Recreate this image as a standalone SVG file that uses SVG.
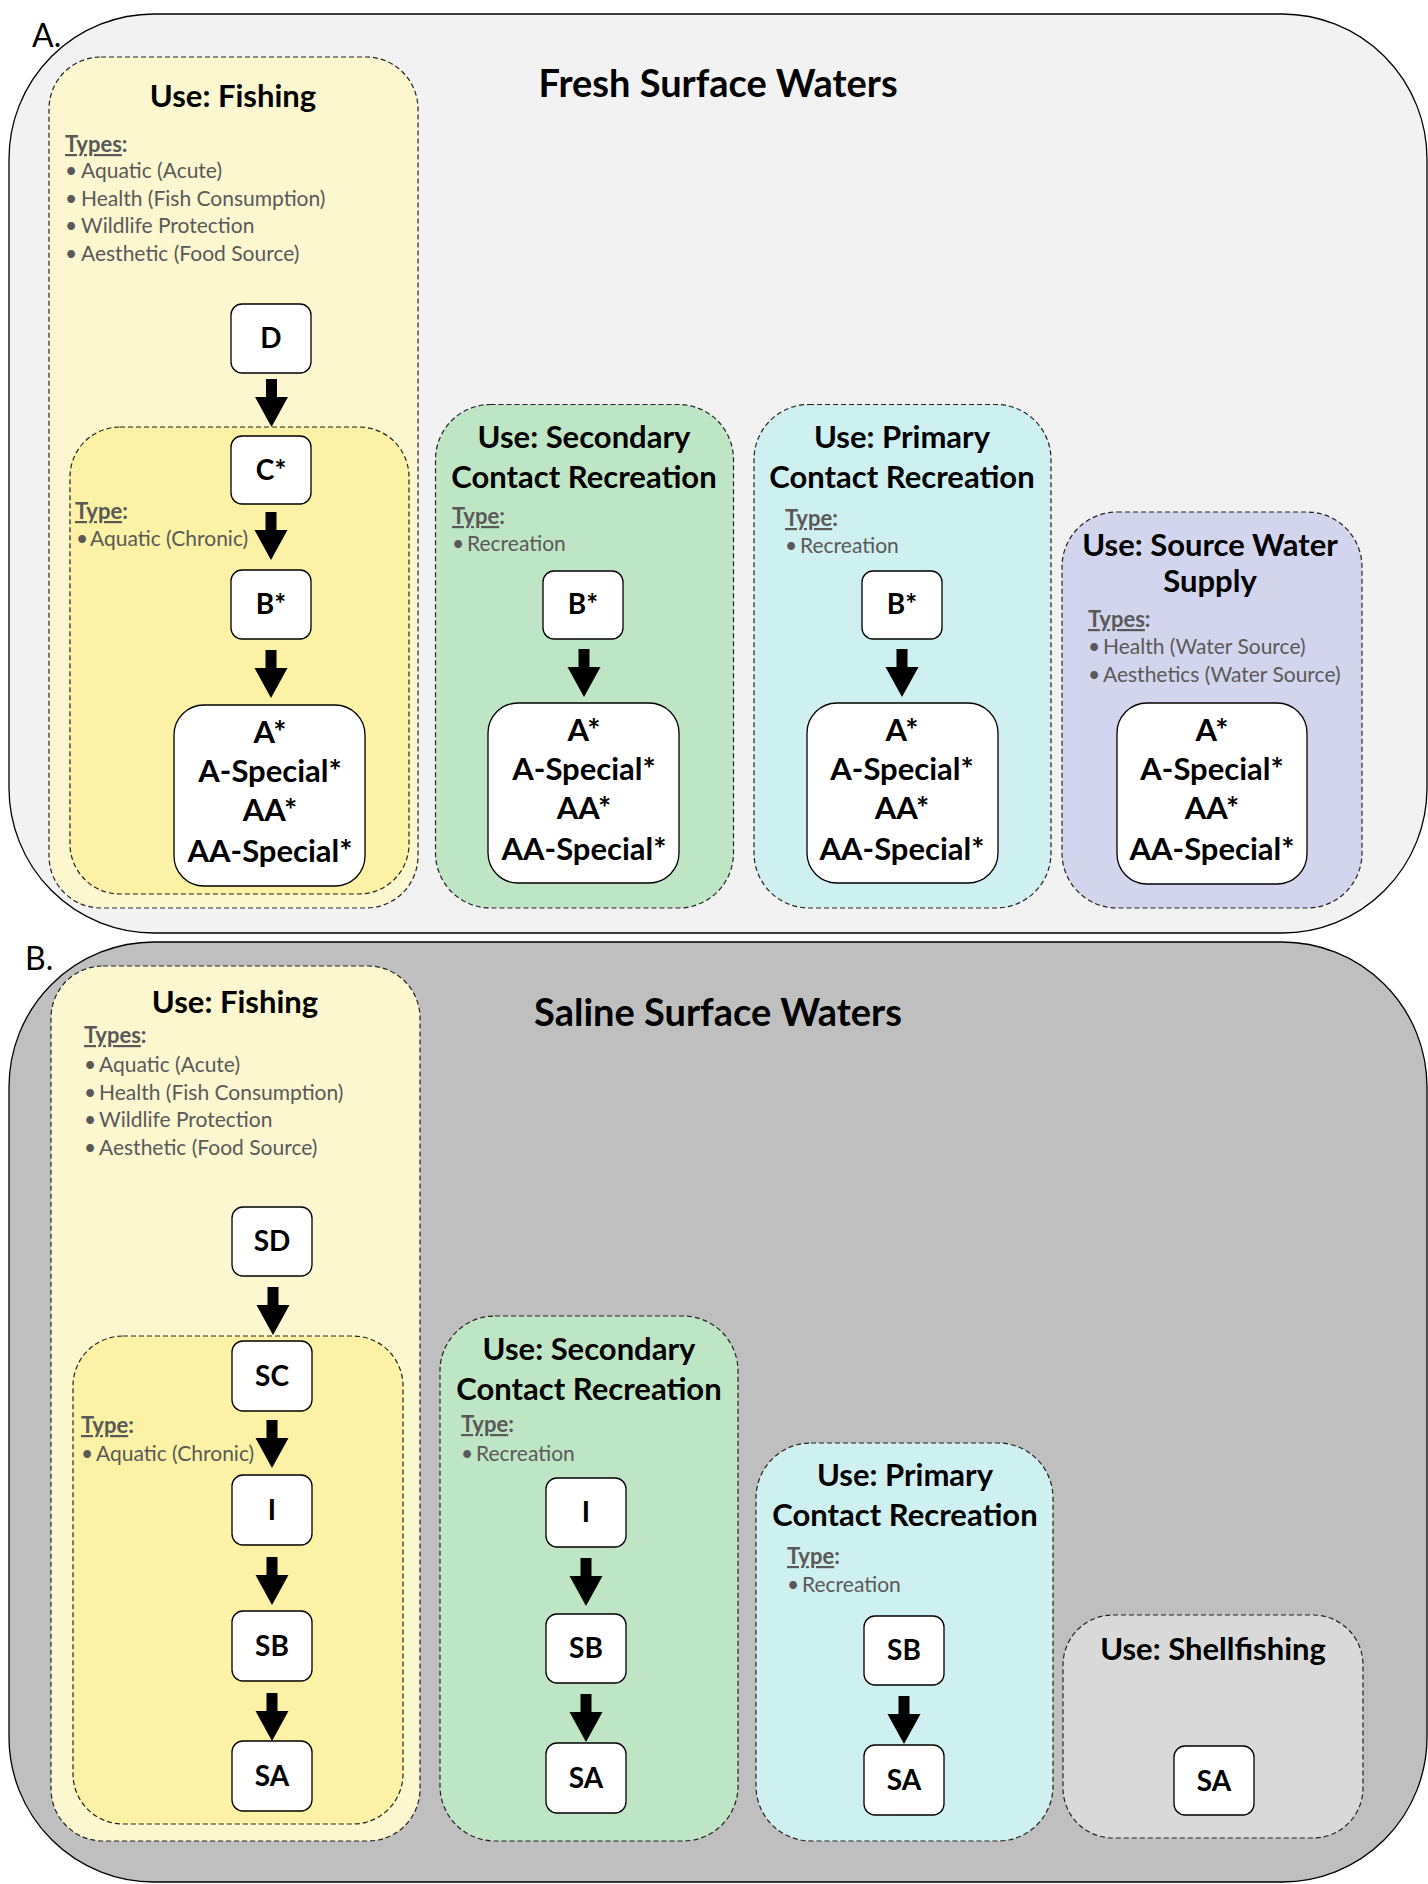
<svg xmlns="http://www.w3.org/2000/svg" xmlns:xlink="http://www.w3.org/1999/xlink" width="1428" height="1884" viewBox="0 0 1428 1884">
<style>
.outer{stroke:#000;stroke-width:1.3}
.use{stroke:#222;stroke-width:1.2;stroke-dasharray:5 3}
.node{fill:#fff;stroke:#000;stroke-width:1.3}
.ttl{font-family:Lato,"Liberation Sans",sans-serif;font-weight:700;font-size:31px;fill:#000;text-anchor:middle}
.big{font-family:Lato,"Liberation Sans",sans-serif;font-weight:700;font-size:38px;fill:#000;text-anchor:middle}
.hd{font-family:Lato,"Liberation Sans",sans-serif;font-weight:700;font-size:22px;fill:#595959}
.bl{font-family:Lato,"Liberation Sans",sans-serif;font-size:21px;fill:#595959}
.nt{font-family:Lato,"Liberation Sans",sans-serif;font-weight:700;font-size:28px;fill:#000;text-anchor:middle}
.bt{font-family:Lato,"Liberation Sans",sans-serif;font-weight:700;font-size:31px;fill:#000;text-anchor:middle}
.lbl{font-family:Lato,"Liberation Sans",sans-serif;font-size:32px;fill:#000}
</style>
<defs>
<path id="arr" d="M-5.5,-48 H5.5 V-30 H16.5 L0,0 L-16.5,-30 H-5.5 Z" fill="#000"/>
</defs>

<g id="panelA">
<rect class="outer" x="9" y="14" width="1418" height="919" rx="145" fill="#f2f2f2"/>
<text class="lbl" x="32" y="47">A.</text>
<text class="big" x="718" y="97">Fresh Surface Waters</text>
</g>

<g id="A-fishing">
<rect class="use" x="49" y="57" width="369" height="851" rx="52" fill="#fdf7cf"/>
<text class="ttl" x="233" y="107">Use: Fishing</text>
<text class="hd" x="65" y="152"><tspan text-decoration="underline">Types</tspan>:</text>
<g class="bl">
<text x="65" y="178">•</text><text x="81" y="178">Aquatic (Acute)</text>
<text x="65" y="206">•</text><text x="81" y="206">Health (Fish Consumption)</text>
<text x="65" y="233">•</text><text x="81" y="233">Wildlife Protection</text>
<text x="65" y="261">•</text><text x="81" y="261">Aesthetic (Food Source)</text>
</g>
</g>
<g id="A-fishing-chronic">
<rect class="use" x="70" y="427" width="339" height="467" rx="50" fill="#fcf1a5"/>
<text class="hd" x="75" y="519"><tspan text-decoration="underline">Type</tspan>:</text>
<text class="bl" x="76" y="546">•</text><text class="bl" x="90" y="546">Aquatic (Chronic)</text>
</g>
<g id="A-D"><rect class="node" x="231" y="304" width="80" height="69" rx="11"/><text class="nt" x="271" y="348">D</text></g>
<g id="A-C"><rect class="node" x="231" y="436" width="80" height="68" rx="11"/><text class="nt" x="271" y="480">C*</text></g>
<g id="A-B1"><rect class="node" x="231" y="570" width="80" height="69" rx="11"/><text class="nt" x="271" y="614">B*</text></g>
<g id="A-A1"><rect class="node" x="174" y="705" width="191" height="181" rx="30"/>
<text class="bt" x="270" y="743">A*</text><text class="bt" x="270" y="782">A-Special*</text><text class="bt" x="270" y="821">AA*</text><text class="bt" x="270" y="862">AA-Special*</text></g>

<g id="A-secondary">
<rect class="use" x="435.5" y="404.5" width="298" height="503.5" rx="55" fill="#bfe6c4"/>
<text class="ttl" x="584" y="448">Use: Secondary</text>
<text class="ttl" x="584" y="488">Contact Recreation</text>
<text class="hd" x="452" y="524"><tspan text-decoration="underline">Type</tspan>:</text>
<text class="bl" x="452" y="551">•</text><text class="bl" x="467" y="551">Recreation</text>
</g>
<g id="A-B2"><rect class="node" x="543" y="571" width="80" height="68" rx="11"/><text class="nt" x="583" y="614">B*</text></g>
<g id="A-A2"><rect class="node" x="488" y="703" width="191" height="180" rx="30"/>
<text class="bt" x="584" y="741">A*</text><text class="bt" x="584" y="780">A-Special*</text><text class="bt" x="584" y="819">AA*</text><text class="bt" x="584" y="860">AA-Special*</text></g>

<g id="A-primary">
<rect class="use" x="754" y="404.5" width="297" height="503.5" rx="55" fill="#cff0f0"/>
<text class="ttl" x="902" y="448">Use: Primary</text>
<text class="ttl" x="902" y="488">Contact Recreation</text>
<text class="hd" x="785" y="526"><tspan text-decoration="underline">Type</tspan>:</text>
<text class="bl" x="785" y="553">•</text><text class="bl" x="800" y="553">Recreation</text>
</g>
<g id="A-B3"><rect class="node" x="862" y="571" width="80" height="68" rx="11"/><text class="nt" x="902" y="614">B*</text></g>
<g id="A-A3"><rect class="node" x="807" y="703" width="191" height="180" rx="30"/>
<text class="bt" x="902" y="741">A*</text><text class="bt" x="902" y="780">A-Special*</text><text class="bt" x="902" y="819">AA*</text><text class="bt" x="902" y="860">AA-Special*</text></g>

<g id="A-source">
<rect class="use" x="1062" y="512" width="300" height="396" rx="55" fill="#d3d4ee"/>
<text class="ttl" x="1210" y="556">Use: Source Water</text>
<text class="ttl" x="1210" y="592">Supply</text>
<text class="hd" x="1088" y="627"><tspan text-decoration="underline">Types</tspan>:</text>
<text class="bl" x="1088" y="654">•</text><text class="bl" x="1103" y="654">Health (Water Source)</text>
<text class="bl" x="1088" y="682">•</text><text class="bl" x="1103" y="682">Aesthetics (Water Source)</text>
</g>
<g id="A-A4"><rect class="node" x="1117" y="703" width="190" height="181" rx="30"/>
<text class="bt" x="1212" y="741">A*</text><text class="bt" x="1212" y="780">A-Special*</text><text class="bt" x="1212" y="819">AA*</text><text class="bt" x="1212" y="860">AA-Special*</text></g>

<g id="panelB">
<rect class="outer" x="9" y="942" width="1418" height="940" rx="145" fill="#bfbfbf"/>
<text class="lbl" x="25" y="970">B.</text>
<text class="big" x="718" y="1026">Saline Surface Waters</text>
</g>

<g id="B-fishing">
<rect class="use" x="51" y="966" width="369" height="875" rx="52" fill="#fdf7cf"/>
<text class="ttl" x="235" y="1013">Use: Fishing</text>
<text class="hd" x="84" y="1043"><tspan text-decoration="underline">Types</tspan>:</text>
<g class="bl">
<text x="84" y="1072">•</text><text x="99" y="1072">Aquatic (Acute)</text>
<text x="84" y="1100">•</text><text x="99" y="1100">Health (Fish Consumption)</text>
<text x="84" y="1127">•</text><text x="99" y="1127">Wildlife Protection</text>
<text x="84" y="1155">•</text><text x="99" y="1155">Aesthetic (Food Source)</text>
</g>
</g>
<g id="B-fishing-chronic">
<rect class="use" x="73" y="1336" width="330" height="488" rx="50" fill="#fcf1a5"/>
<text class="hd" x="81" y="1433"><tspan text-decoration="underline">Type</tspan>:</text>
<text class="bl" x="81" y="1461">•</text><text class="bl" x="96" y="1461">Aquatic (Chronic)</text>
</g>
<g id="B-SD"><rect class="node" x="232" y="1207" width="80" height="69" rx="11"/><text class="nt" x="272" y="1251">SD</text></g>
<g id="B-SC"><rect class="node" x="232" y="1341" width="80" height="70" rx="11"/><text class="nt" x="272" y="1386">SC</text></g>
<g id="B-I1"><rect class="node" x="232" y="1475" width="80" height="70" rx="11"/><text class="nt" x="272" y="1520">I</text></g>
<g id="B-SB1"><rect class="node" x="232" y="1611" width="80" height="70" rx="11"/><text class="nt" x="272" y="1656">SB</text></g>
<g id="B-SA1"><rect class="node" x="232" y="1741" width="80" height="70" rx="11"/><text class="nt" x="272" y="1786">SA</text></g>

<g id="B-secondary">
<rect class="use" x="440" y="1316" width="298" height="525" rx="55" fill="#bfe6c4"/>
<text class="ttl" x="589" y="1360">Use: Secondary</text>
<text class="ttl" x="589" y="1400">Contact Recreation</text>
<text class="hd" x="461" y="1432"><tspan text-decoration="underline">Type</tspan>:</text>
<text class="bl" x="461" y="1461">•</text><text class="bl" x="476" y="1461">Recreation</text>
</g>
<g id="B-I2"><rect class="node" x="546" y="1478" width="80" height="69" rx="11"/><text class="nt" x="586" y="1522">I</text></g>
<g id="B-SB2"><rect class="node" x="546" y="1614" width="80" height="69" rx="11"/><text class="nt" x="586" y="1658">SB</text></g>
<g id="B-SA2"><rect class="node" x="546" y="1743" width="80" height="70" rx="11"/><text class="nt" x="586" y="1788">SA</text></g>

<g id="B-primary">
<rect class="use" x="756" y="1443" width="297" height="398" rx="55" fill="#cff0f0"/>
<text class="ttl" x="905" y="1486">Use: Primary</text>
<text class="ttl" x="905" y="1526">Contact Recreation</text>
<text class="hd" x="787" y="1564"><tspan text-decoration="underline">Type</tspan>:</text>
<text class="bl" x="787" y="1592">•</text><text class="bl" x="802" y="1592">Recreation</text>
</g>
<g id="B-SB3"><rect class="node" x="864" y="1616" width="80" height="69" rx="11"/><text class="nt" x="904" y="1660">SB</text></g>
<g id="B-SA3"><rect class="node" x="864" y="1745" width="80" height="70" rx="11"/><text class="nt" x="904" y="1790">SA</text></g>

<g id="B-shellfishing">
<rect class="use" x="1063" y="1615" width="300" height="223" rx="50" fill="#d9d9d9"/>
<text class="ttl" x="1213" y="1660">Use: Shellfishing</text>
</g>
<g id="B-SA4"><rect class="node" x="1174" y="1746" width="80" height="69" rx="11"/><text class="nt" x="1214" y="1791">SA</text></g>

<g id="connectors">
<use xlink:href="#arr" transform="translate(271.5,427)"/>
<use xlink:href="#arr" transform="translate(271,560)"/>
<use xlink:href="#arr" transform="translate(271,698)"/>
<use xlink:href="#arr" transform="translate(584,697)"/>
<use xlink:href="#arr" transform="translate(902,697)"/>
<use xlink:href="#arr" transform="translate(273,1335)"/>
<use xlink:href="#arr" transform="translate(272,1468)"/>
<use xlink:href="#arr" transform="translate(272,1605)"/>
<use xlink:href="#arr" transform="translate(272,1741)"/>
<use xlink:href="#arr" transform="translate(586,1606)"/>
<use xlink:href="#arr" transform="translate(586,1742)"/>
<use xlink:href="#arr" transform="translate(904,1744)"/>
</g>
</svg>
